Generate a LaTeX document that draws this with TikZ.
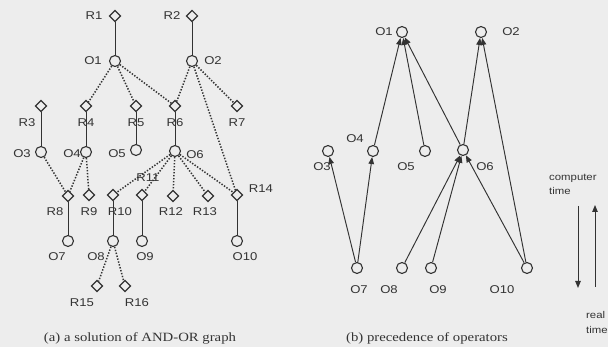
\documentclass[tikz,border=0pt]{standalone}
\usepackage{fontspec}
\setmainfont{Liberation Serif}[FakeStretch=1.17]
\setsansfont{Liberation Sans}[FakeStretch=1.16]
\usetikzlibrary{shapes.geometric,arrows.meta}
\definecolor{ink}{HTML}{333333}
\definecolor{paper}{HTML}{EDEDED}
\tikzset{
  op/.style={circle,draw=ink,line width=1.1pt,fill=paper,minimum size=11pt,inner sep=0pt},
  rule/.style={diamond,draw=ink,line width=1.1pt,fill=paper,minimum size=11.5pt,inner sep=0pt},
  lbl/.style={font=\sffamily\fontsize{11.3}{11}\selectfont,text=ink,inner sep=0pt},
  solidlink/.style={draw=ink,line width=1.0pt},
  orlink/.style={draw=ink,line width=1.5pt,dash pattern=on 1.4pt off 1.6pt},
  prec/.style={draw=ink,line width=0.95pt,-{Triangle[length=7pt,width=5.5pt]}},
  caption/.style={font=\fontsize{12.6}{13}\selectfont,text=ink,inner sep=0pt},
  small/.style={font=\sffamily\fontsize{9.8}{10}\selectfont,text=ink,inner sep=0pt,anchor=west},
}
\begin{document}
\begin{tikzpicture}[x=1pt,y=-1pt]
\fill[paper] (0,0) rectangle (608,347);
\useasboundingbox (0,0) rectangle (608,347);

% ---- (a) AND-OR graph ----
\node[rule] (R1) at (115,16) {};
\node[rule] (R2) at (192,16) {};
\node[op] (O1) at (115,61) {};
\node[op] (O2) at (192,61) {};
\node[rule] (R3) at (41,106) {};
\node[rule] (R4) at (86,106) {};
\node[rule] (R5) at (136,106) {};
\node[rule] (R6) at (175,106) {};
\node[rule] (R7) at (237,106) {};
\node[op] (O3) at (41,152) {};
\node[op] (O4) at (86,152) {};
\node[op] (O5) at (136,150) {};
\node[op] (O6) at (175,151) {};
\node[rule] (R8) at (68,196) {};
\node[rule] (R9) at (89,195) {};
\node[rule] (R10) at (113,195) {};
\node[rule] (R11) at (142,195) {};
\node[rule] (R12) at (173,196) {};
\node[rule] (R13) at (208,196) {};
\node[rule] (R14) at (237,195) {};
\node[op] (O7) at (68,241) {};
\node[op] (O8) at (113,241) {};
\node[op] (O9) at (142,241) {};
\node[op] (O10) at (237,241) {};
\node[rule] (R15) at (97,286) {};
\node[rule] (R16) at (125,286) {};

\foreach \a/\b in {R1/O1,R2/O2,R3/O3,R4/O4,R5/O5,R6/O6,R8/O7,R10/O8,R11/O9,R14/O10}
  \path[solidlink] (\a) -- (\b);
\foreach \a/\b in {O1/R4,O1/R5,O1/R6,O2/R6,O2/R7,O2/R14,O3/R8,O4/R8,O4/R9,
                   O6/R10,O6/R11,O6/R12,O6/R13,O6/R14,O8/R15,O8/R16}
  \path[orlink] (\a) -- (\b);

\node[lbl] (lR1) at (94,16) {R1};
\node[lbl] (lR2) at (172,16) {R2};
\node[lbl] (lO1) at (93,61) {O1};
\node[lbl] (lO2) at (213,61) {O2};
\node[lbl] (lR3) at (27,123) {R3};
\node[lbl] (lR4) at (86,123) {R4};
\node[lbl] (lR5) at (136,123) {R5};
\node[lbl] (lR6) at (175,123) {R6};
\node[lbl] (lR7) at (237,123) {R7};
\node[lbl] (lO3) at (22,154) {O3};
\node[lbl] (lO4) at (72,154) {O4};
\node[lbl] (lO5) at (117,154) {O5};
\node[lbl] (lO6) at (195,155) {O6};
\node[lbl] (lR8) at (55,212) {R8};
\node[lbl] (lR9) at (89,212) {R9};
\node[lbl] (lR10) at (120,212) {R10};
\node[lbl] (lR11) at (148,178) {R11};
\node[lbl] (lR12) at (171,212) {R12};
\node[lbl] (lR13) at (205,212) {R13};
\node[lbl] (lR14) at (261,189) {R14};
\node[lbl] (lO7) at (57,257) {O7};
\node[lbl] (lO8) at (96,257) {O8};
\node[lbl] (lO9) at (145,257) {O9};
\node[lbl] (lO10) at (245,257) {O10};
\node[lbl] (lR15) at (82,303) {R15};
\node[lbl] (lR16) at (137,303) {R16};
\node[caption] (capa) at (140,338) {(a) a solution of AND-OR graph};

% ---- (b) precedence of operators ----
\node[op] (P1) at (402,32) {};
\node[op] (P2) at (481,32) {};
\node[op] (P3) at (328,151) {};
\node[op] (P4) at (373,151) {};
\node[op] (P5) at (425,151) {};
\node[op] (P6) at (463,150) {};
\node[op] (P7) at (357,268) {};
\node[op] (P8) at (402,268) {};
\node[op] (P9) at (431,268) {};
\node[op] (P10) at (527,268) {};

\foreach \a/\b in {P7/P3,P7/P4,P4/P1,P5/P1,P6/P1,P6/P2,P10/P2,P8/P6,P9/P6,P10/P6}
  \path[prec] (\a) -- (\b);

\node[lbl] (lP1) at (384,32) {O1};
\node[lbl] (lP2) at (511,32) {O2};
\node[lbl] (lP3) at (322,167) {O3};
\node[lbl] (lP4) at (355,139) {O4};
\node[lbl] (lP5) at (406,167) {O5};
\node[lbl] (lP6) at (485,167) {O6};
\node[lbl] (lP7) at (359,290) {O7};
\node[lbl] (lP8) at (389,290) {O8};
\node[lbl] (lP9) at (438,290) {O9};
\node[lbl] (lP10) at (502,290) {O10};
\node[caption] (capb) at (427,338) {(b) precedence of operators};

% time axes
\node[small] (ct1) at (549,178) {computer};
\node[small] (ct2) at (549,191) {time};
\node[small] (rt1) at (586,315) {real};
\node[small] (rt2) at (586,330) {time};
\coordinate (cdTop) at (578,206);
\coordinate (cdBot) at (578,288);
\coordinate (rtBot) at (595,287);
\coordinate (rtTop) at (595,205);
\path[prec] (cdTop) -- (cdBot);
\path[prec] (rtBot) -- (rtTop);
\end{tikzpicture}
\end{document}
